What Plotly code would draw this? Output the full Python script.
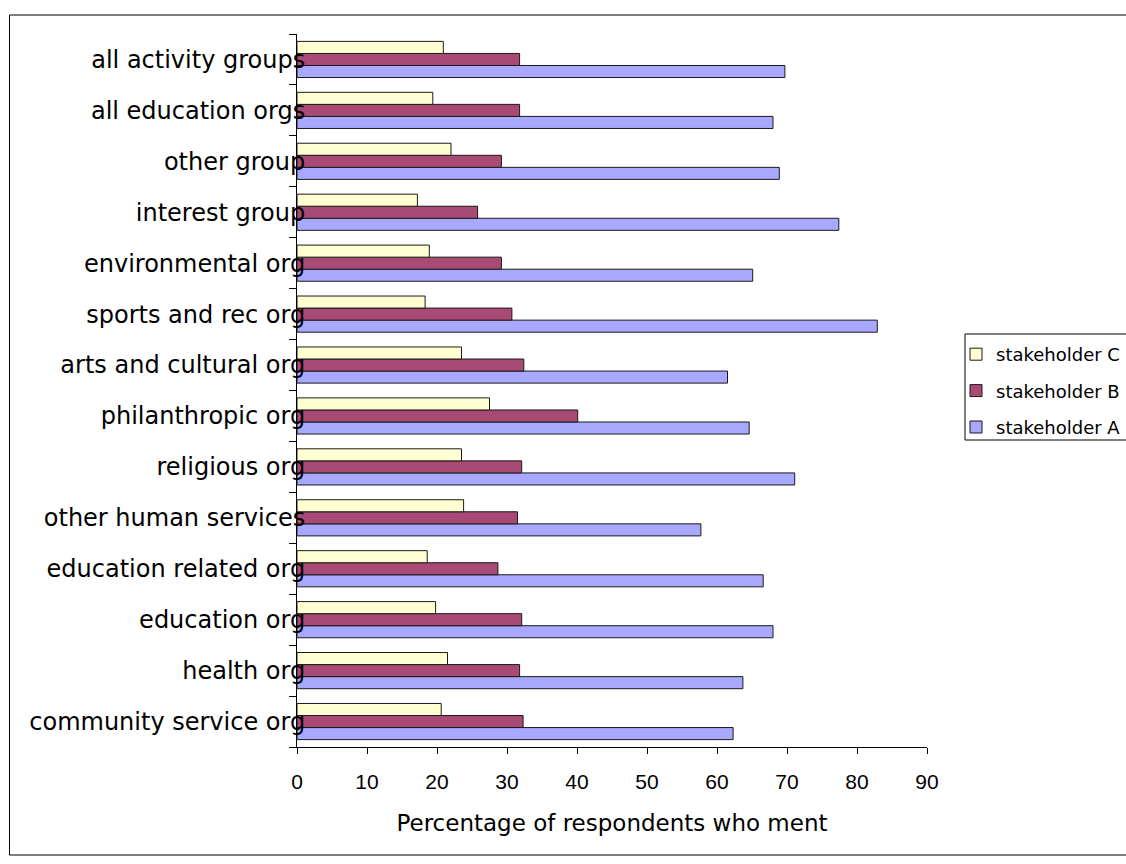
import plotly.graph_objects as go

# Organisation types, bottom to top on the category axis
categories = [
    "community service org",
    "health org",
    "education org",
    "education related org",
    "other human services",
    "religious org",
    "philanthropic org",
    "arts and cultural org",
    "sports and rec org",
    "environmental org",
    "interest group",
    "other group",
    "all education orgs",
    "all activity groups",
]

# Percentage of respondents, per stakeholder
stakeholder_a = [62.3, 63.7, 68.0, 66.6, 57.7, 71.1, 64.6, 61.5, 82.9, 65.1, 77.4, 68.9, 68.0, 69.7]
stakeholder_b = [32.3, 31.8, 32.1, 28.7, 31.5, 32.1, 40.1, 32.4, 30.7, 29.2, 25.8, 29.2, 31.8, 31.8]
stakeholder_c = [20.6, 21.5, 19.8, 18.6, 23.8, 23.5, 27.5, 23.5, 18.3, 18.9, 17.2, 22.0, 19.4, 20.9]

x_ticks = [0, 10, 20, 30, 40, 50, 60, 70, 80, 90]

W, H = 1126, 864
L, R, T, B = 297, 199, 34, 117
PW, PH = W - L - R, H - T - B


def px_x(p):
    return (p - L) / PW


def px_y(p):
    return (H - B - p) / PH


# (name, values, fill colour, legend rank: C listed first)
series = [
    ("stakeholder A", stakeholder_a, "#A8A8FF", 3),
    ("stakeholder B", stakeholder_b, "#A94A75", 2),
    ("stakeholder C", stakeholder_c, "#FFFFD2", 1),
]

fig = go.Figure()
for name, vals, color, rank in series:
    fig.add_trace(go.Bar(
        y=categories,
        x=vals,
        name=name,
        legendgroup=name,
        legendrank=rank,
        orientation="h",
        marker=dict(color=color, line=dict(color="#1a1a1a", width=1)),
        hoverinfo="x+y+name",
    ))

shapes = [
    # outer chart frame
    dict(type="rect", xref="paper", yref="paper",
         x0=px_x(9.5), x1=px_x(1140), y0=px_y(855), y1=px_y(15),
         line=dict(color="black", width=1), fillcolor="rgba(0,0,0,0)", layer="below"),
    # legend frame
    dict(type="rect", xref="paper", yref="paper",
         x0=px_x(965), x1=px_x(1140), y0=px_y(440), y1=px_y(334),
         line=dict(color="black", width=1), fillcolor="white", layer="below"),
]

fig.update_layout(
    width=W, height=H, autosize=False,
    margin=dict(l=L, r=R, t=T, b=B, pad=0, autoexpand=False),
    paper_bgcolor="white", plot_bgcolor="white",
    barmode="group", bargap=0.29, bargroupgap=0,
    shapes=shapes,
    showlegend=True,
    legend=dict(
        x=px_x(956), xanchor="left", y=px_y(336), yanchor="top",
        traceorder="grouped", tracegroupgap=10,
        font=dict(family="DejaVu Sans", size=18, color="black"),
        bgcolor="rgba(0,0,0,0)", borderwidth=0, itemwidth=30,
    ),
    xaxis=dict(
        range=[0, 90], tickvals=x_ticks, ticktext=[str(v) for v in x_ticks],
        showline=True, linecolor="black", linewidth=1,
        ticks="outside", ticklen=6, tickcolor="black",
        tickfont=dict(family="Liberation Sans", size=21, color="black"),
        ticklabelstandoff=10,
        showgrid=False, zeroline=False,
        title=dict(text="Percentage of respondents who ment", standoff=22,
                   font=dict(family="DejaVu Sans", size=23, color="black")),
    ),
    yaxis=dict(
        type="category", categoryorder="array", categoryarray=categories,
        range=[-0.5, len(categories) - 0.5],
        showline=True, linecolor="black", linewidth=1,
        ticks="outside", ticklen=7, tickcolor="black", tickson="boundaries",
        tickfont=dict(family="DejaVu Sans", size=24, color="black"),
        ticklabelstandoff=-14,
        showgrid=False, zeroline=False,
    ),
)

fig.write_html("out.html")
